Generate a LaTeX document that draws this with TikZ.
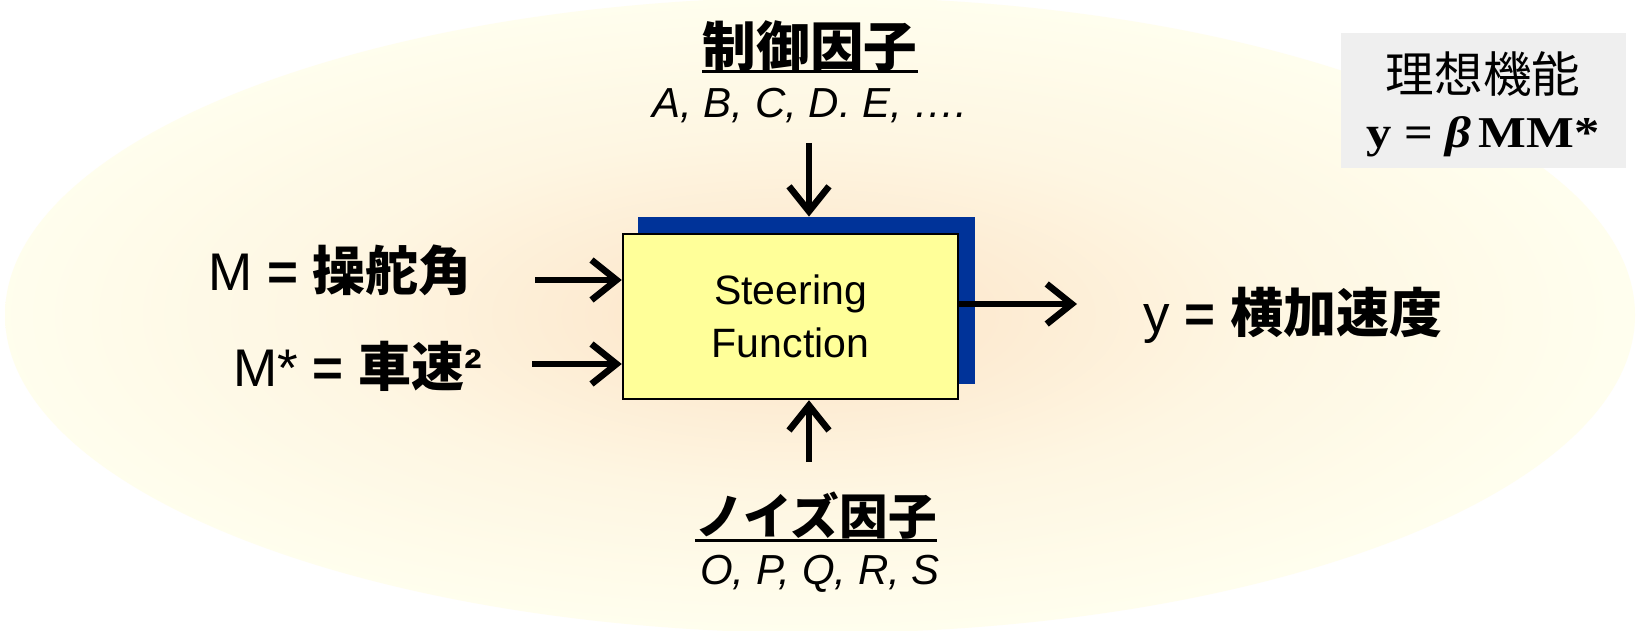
\documentclass[tikz,border=0pt]{standalone}
\usepackage{fontspec}
\setmainfont{Liberation Sans}
\newfontfamily\cjk{Noto Sans CJK JP}
\newfontfamily\tnr{Liberation Serif}[FakeStretch=1.15]
\usetikzlibrary{arrows.meta}
\definecolor{shblue}{HTML}{003399}
\definecolor{boxyellow}{HTML}{FFFF99}
\definecolor{idealgray}{HTML}{EFEFEF}
\definecolor{gcA}{HTML}{FCE3C2}
\definecolor{gcB}{HTML}{FDEBD2}
\definecolor{gcC}{HTML}{FEF6E2}
\definecolor{gcD}{HTML}{FFFEEE}
\pgfdeclareradialshading{glow}{\pgfpoint{-1bp}{0bp}}{color(0bp)=(gcA); color(6bp)=(gcB); color(14bp)=(gcC); color(25bp)=(gcD); color(50bp)=(gcD)}
\begin{document}
\begin{tikzpicture}[x=0.5pt,y=-0.5pt,
  fbox/.style={draw=black, line width=1.2pt, fill=boxyellow, minimum width=167.5pt, minimum height=82.5pt, inner sep=0pt, align=center, font=\fontsize{20.5}{26.5}\selectfont},
  shadowbox/.style={fill=shblue, minimum width=168.5pt, minimum height=83.5pt, inner sep=0pt},
  arr/.style={line width=3.3pt, -{Straight Barb[length=12.5pt,width=20pt,line width=3.3pt]}},
  lbl/.style={inner sep=0pt, anchor=base west, font=\fontsize{26.5}{30}\selectfont},
  cjklbl/.style={inner sep=0pt, anchor=base},
  italbl/.style={inner sep=0pt, anchor=base, font={\fontsize{21}{25}\selectfont\itshape}},
  uline/.style={line width=1.5pt}
]
\useasboundingbox (0,0) rectangle (1644,631);
\fill[white] (0,0) rectangle (1644,631);
\path[shading=glow] (820,315) ellipse [x radius=407.5pt, y radius=159pt];

% ideal function box
\node[fill=idealgray, minimum width=142.5pt, minimum height=67.5pt, inner sep=0pt] (ideal) at (1483.5,100.5) {};
\node[cjklbl, font={\fontsize{24.3}{28}\selectfont\cjk}] (idealt) at (1483,93) {理想機能};
\node[cjklbl, font={\fontsize{22}{25}\selectfont\tnr\bfseries}] (idealf) at (1483,148) {y = {\itshape β}\,MM*};

% block
\node[shadowbox] (shadow) at (806.5,300.5) {};
\node[fbox] (box) at (790.5,316.5) {Steering\\Function};

% control factors
\node[cjklbl, font={\fontsize{26.8}{30}\selectfont\cjk\bfseries}] (ctrl) at (810,67) {制御因子};
\draw[uline] ([yshift=-2.5pt]ctrl.base west) -- ([yshift=-2.5pt]ctrl.base east);
\node[italbl] (abc) at (810,118) {A, B, C, D. E, ….};

% noise factors
\node[cjklbl, font={\fontsize{24.3}{28}\selectfont\cjk\bfseries}] (noise) at (816,534) {ノイズ因子};
\draw[uline] ([yshift=-3pt]noise.base west) -- ([yshift=-3pt]noise.base east);
\node[italbl] (ops) at (820,584) {O, P, Q, R, S};

% signals
\node[lbl] (mlab) at (208,290) {M {\bfseries =} {\cjk\bfseries 操舵角}};
\node[lbl] (mslab) at (233,386) {M* {\bfseries =} {\cjk\bfseries 車速}{\bfseries ²}};
\node[lbl] (ylab) at (1143,332) {y {\bfseries =} {\cjk\bfseries 横加速度}};

% connectors
\coordinate (ctrlin) at (809,143);
\draw[arr] (ctrlin) -- (ctrlin |- shadow.north);
\coordinate (noisein) at (809,462);
\draw[arr] (noisein) -- (noisein |- box.south);
\coordinate (min1) at (535,280);
\draw[arr] (min1) -- (min1 -| box.west);
\coordinate (min2) at (532,364);
\draw[arr] (min2) -- (min2 -| box.west);
\coordinate (yend) at (1077,304);
\draw[arr] (yend -| box.east) -- (yend);
\end{tikzpicture}
\end{document}
